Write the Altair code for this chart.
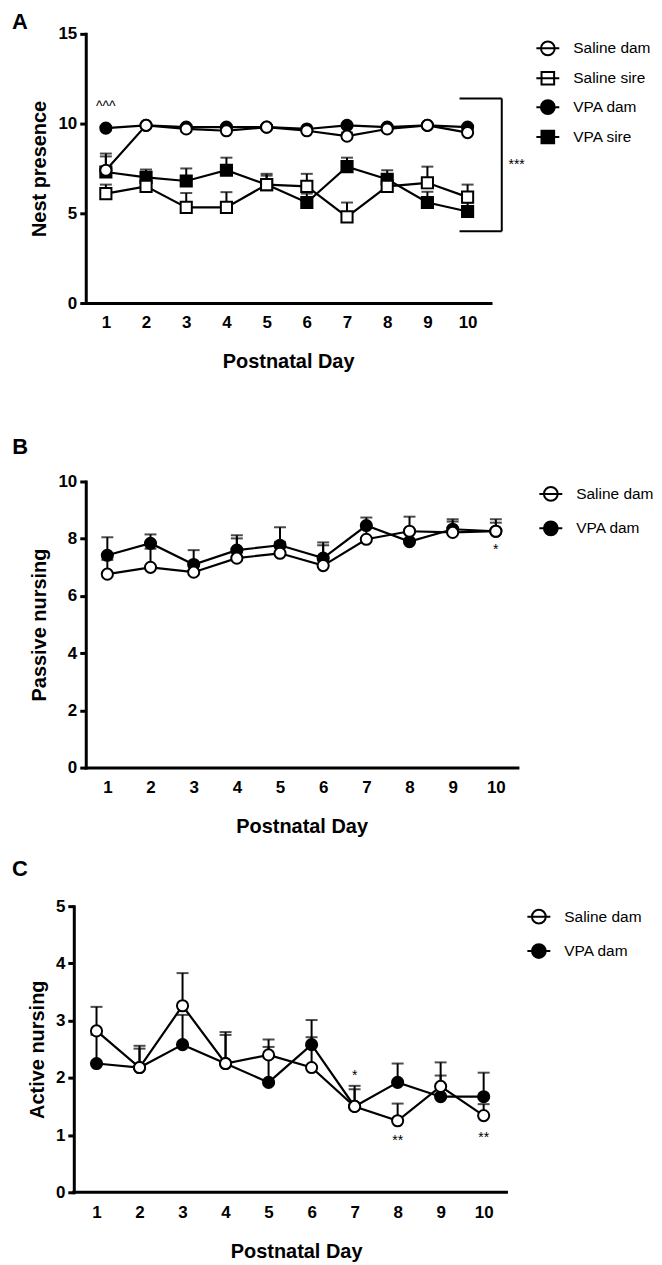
import altair as alt
import pandas as pd

FONT = "Liberation Sans"
days = [1, 2, 3, 4, 5, 6, 7, 8, 9, 10]

# ---------------- Panel A : Nest presence ----------------
a_names = ["Saline dam", "Saline sire", "VPA dam", "VPA sire"]
a_saline_dam = [7.4, 9.9, 9.7, 9.6, 9.8, 9.6, 9.3, 9.7, 9.9, 9.5]
a_saline_dam_sem = [0.93, 0.1, 0.15, 0.2, 0.1, 0.15, 0.2, 0.1, 0.1, 0.2]
a_saline_sire = [6.1, 6.5, 5.33, 5.33, 6.6, 6.5, 4.8, 6.5, 6.7, 5.9]
a_saline_sire_sem = [0.5, 0.78, 0.8, 0.85, 0.6, 0.7, 0.8, 0.6, 0.9, 0.7]
a_vpa_dam = [9.75, 9.9, 9.8, 9.8, 9.8, 9.7, 9.9, 9.8, 9.9, 9.8]
a_vpa_dam_sem = [0.1, 0.05, 0.1, 0.1, 0.1, 0.1, 0.05, 0.1, 0.05, 0.1]
a_vpa_sire = [7.3, 7.0, 6.8, 7.4, 6.6, 5.6, 7.6, 6.9, 5.6, 5.1]
a_vpa_sire_sem = [0.87, 0.44, 0.7, 0.7, 0.5, 0.5, 0.5, 0.5, 0.6, 0.5]

# ---------------- Panel B : Passive nursing ----------------
b_names = ["Saline dam", "VPA dam"]
b_saline_dam = [6.76, 7.0, 6.83, 7.32, 7.49, 7.06, 7.98, 8.26, 8.22, 8.26]
b_saline_dam_sem = [0.5, 0.65, 0.3, 0.69, 0.4, 0.71, 0.4, 0.51, 0.38, 0.42]
b_vpa_dam = [7.42, 7.84, 7.1, 7.6, 7.77, 7.32, 8.46, 7.9, 8.33, 8.26]
b_vpa_dam_sem = [0.63, 0.31, 0.5, 0.52, 0.63, 0.55, 0.28, 0.3, 0.35, 0.3]

# ---------------- Panel C : Active nursing ----------------
c_names = ["Saline dam", "VPA dam"]
c_saline_dam = [2.82, 2.18, 3.26, 2.25, 2.4, 2.18, 1.5, 1.25, 1.85, 1.34]
c_saline_dam_sem = [0.42, 0.38, 0.57, 0.55, 0.27, 0.53, 0.36, 0.3, 0.42, 0.2]
c_vpa_dam = [2.25, 2.18, 2.58, 2.25, 1.92, 2.58, 1.5, 1.92, 1.67, 1.67]
c_vpa_dam_sem = [0.5, 0.33, 0.52, 0.5, 0.62, 0.43, 0.3, 0.33, 0.37, 0.42]

# significance annotations and panel letters (day, value, text)
a_notes_day = [1, 11.22]
a_notes_val = [10.95, 7.67]
a_notes_txt = ["^^^", "***"]
a_letter = (-1.14, 15.67, "A")
a_bracket_day = [9.8, 10.85, 9.8]
a_bracket_day2 = [10.85, 10.85, 10.85]
a_bracket_val = [11.4, 11.4, 4.0]
a_bracket_val2 = [11.4, 4.0, 4.0]

b_notes_day = [10]
b_notes_val = [7.6]
b_notes_txt = ["*"]
b_letter = (-1.02, 11.2, "B")

c_notes_day = [7, 8, 10]
c_notes_val = [2.04, 0.9, 0.94]
c_notes_txt = ["*", "**", "**"]
c_letter = (-0.78, 5.645, "C")
c_xaxis_line = ([0.47], [10.53], [0], [0])

CIRCLE_LINE = "M-1,0H1M-0.6,0A0.6,0.6,0,1,1,0.6,0A0.6,0.6,0,1,1,-0.6,0Z"
SQUARE_LINE = "M-1,0H1M-0.55,-0.55H0.55V0.55H-0.55Z"


def build_df(names, means, sems, draw_order):
    rows = []
    for name in draw_order:
        i = names.index(name)
        for d, m, s in zip(days, means[i], sems[i]):
            rows.append({"day": d, "series": name, "lg": name, "mean": m,
                         "upper": round(m + s, 3)})
    return pd.DataFrame(rows)


def panel(df, letter, names, shapes, fills, legend_paths, ytitle, ydom, yvals,
          w, h, xdom, leg_x, leg_y, row_pad, notes, bracket=None,
          yoffset=0, xline=None):
    xax = alt.Axis(values=days, ticks=False, title="Postnatal Day", labelPadding=12,
                   titlePadding=21, format="d", domain=xline is None)
    yax = alt.Axis(values=yvals, title=ytitle, tickSize=6, labelPadding=3,
                   titlePadding=8, format="d", offset=yoffset)
    xs = alt.Scale(domain=xdom, nice=False, zero=False)
    ys = alt.Scale(domain=ydom, nice=False)
    X = alt.X("day:Q", scale=xs, axis=xax)
    Y = alt.Y("mean:Q", scale=ys, axis=yax)

    base = alt.Chart(df)
    lines = base.mark_line(color="black", strokeWidth=2.2).encode(
        x=X, y=Y, detail="series:N")
    err = base.mark_rule(color="black", strokeWidth=2).encode(
        x=X, y=Y, y2="upper:Q")
    caps = base.mark_tick(color="black", orient="horizontal", size=12,
                          thickness=2).encode(
        x=X, y=alt.Y("upper:Q", scale=ys, axis=yax))
    pts = base.mark_point(opacity=1, stroke="black", strokeWidth=2,
                          size=125).encode(
        x=X, y=Y,
        shape=alt.Shape("series:N", scale=alt.Scale(domain=names, range=shapes),
                        legend=None),
        fill=alt.Fill("series:N", scale=alt.Scale(domain=names, range=fills),
                      legend=None))

    leg = alt.Legend(orient="none", legendX=leg_x, legendY=leg_y, title=None,
                     symbolSize=529, symbolStrokeWidth=2,
                     labelFont=FONT, labelFontSize=15.5, labelColor="black",
                     labelOffset=13, rowPadding=row_pad, padding=0,
                     symbolOffset=0)
    legend_layer = base.transform_filter("datum.day < 0").mark_point(
        opacity=1, strokeWidth=2).encode(
        x=X, y=Y,
        shape=alt.Shape("lg:N", scale=alt.Scale(domain=names, range=legend_paths),
                        legend=leg),
        fill=alt.Fill("lg:N", scale=alt.Scale(domain=names, range=fills),
                      legend=leg),
        stroke=alt.Stroke("lg:N", scale=alt.Scale(domain=names,
                                                  range=["black"] * len(names)),
                          legend=leg))

    ndf = pd.DataFrame({"day": notes[0], "mean": notes[1], "label": notes[2]})
    txt = alt.Chart(ndf).mark_text(font=FONT, fontSize=14, color="black",
                                   baseline="middle").encode(
        x=X, y=Y, text="label:N")

    ldf = pd.DataFrame({"day": [letter[0]], "mean": [letter[1]], "label": [letter[2]]})
    let = alt.Chart(ldf).mark_text(font=FONT, fontSize=22, fontWeight="bold",
                                   color="black", baseline="middle",
                                   align="center").encode(
        x=X, y=Y, text="label:N")

    layers = [lines, err, caps, pts, legend_layer, txt, let]
    if bracket is not None:
        bdf = pd.DataFrame({"day": bracket[0], "day2": bracket[1],
                            "mean": bracket[2], "mean2": bracket[3]})
        br = alt.Chart(bdf).mark_rule(color="black", strokeWidth=2).encode(
            x=X, x2="day2:Q", y=Y, y2="mean2:Q")
        layers.append(br)
    if xline is not None:
        xdf = pd.DataFrame({"day": xline[0], "day2": xline[1],
                            "mean": xline[2], "mean2": xline[3]})
        xl = alt.Chart(xdf).mark_rule(color="black", strokeWidth=3,
                                      strokeCap="square").encode(
            x=X, x2="day2:Q", y=Y, y2="mean2:Q")
        layers.append(xl)

    return alt.layer(*layers).resolve_scale(
        shape="independent", fill="independent", stroke="independent").properties(
        width=w, height=h)


dfA = build_df(a_names,
               [a_saline_dam, a_saline_sire, a_vpa_dam, a_vpa_sire],
               [a_saline_dam_sem, a_saline_sire_sem, a_vpa_dam_sem, a_vpa_sire_sem],
               ["VPA sire", "VPA dam", "Saline sire", "Saline dam"])
dfB = build_df(b_names, [b_saline_dam, b_vpa_dam], [b_saline_dam_sem, b_vpa_dam_sem],
               ["VPA dam", "Saline dam"])
dfC = build_df(c_names, [c_saline_dam, c_vpa_dam], [c_saline_dam_sem, c_vpa_dam_sem],
               ["VPA dam", "Saline dam"])

chartA = panel(dfA, a_letter, a_names, ["circle", "square", "circle", "square"],
               ["white", "white", "black", "black"],
               [CIRCLE_LINE, SQUARE_LINE, CIRCLE_LINE, SQUARE_LINE],
               "Nest presence", [0, 15], [0, 5, 10, 15], 406, 270, [0.5, 10.57],
               451, 2, 6,
               (a_notes_day, a_notes_val, a_notes_txt),
               (a_bracket_day, a_bracket_day2, a_bracket_val, a_bracket_val2))
chartB = panel(dfB, b_letter, b_names, ["circle", "circle"], ["white", "black"],
               [CIRCLE_LINE, CIRCLE_LINE],
               "Passive nursing", [0, 10], [0, 2, 4, 6, 8, 10], 433, 287, [0.5, 10.5],
               454, 0, 10.5,
               (b_notes_day, b_notes_val, b_notes_txt))
chartC = panel(dfC, c_letter, c_names, ["circle", "circle"], ["white", "black"],
               [CIRCLE_LINE, CIRCLE_LINE],
               "Active nursing", [0, 5], [0, 1, 2, 3, 4, 5], 422, 287, [0.75, 10.53],
               442, -2, 10.5,
               (c_notes_day, c_notes_val, c_notes_txt),
               yoffset=12, xline=c_xaxis_line)

inner = alt.concat(chartB, chartC, columns=1, spacing=21)
chart = alt.concat(chartA, inner, columns=1, spacing=64).configure_view(
    stroke=None).configure_axis(
    grid=False, domainColor="black", domainWidth=3, domainCap="square",
    tickColor="black", tickWidth=3,
    labelFont=FONT, labelFontSize=17, labelFontWeight="bold", labelColor="black",
    titleFont=FONT, titleFontSize=20, titleFontWeight="bold", titleColor="black"
).properties(padding={"left": 3, "top": 0, "right": 0, "bottom": 0})

chart.save("out.html", embed_options={"renderer": "svg", "actions": False})
